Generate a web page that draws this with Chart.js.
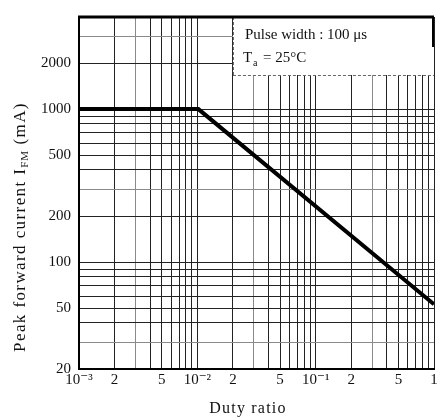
<!DOCTYPE html>
<html>
<head>
<meta charset="utf-8">
<script src="https://cdn.jsdelivr.net/npm/chart.js@4"></script>
<style>
  body { margin: 0; background: #fff; }
  canvas { display: block; }
</style>
</head>
<body>
<canvas id="chartIfm" width="441" height="419"></canvas>
<script>
// curva de corriente pico vs. relacion de trabajo
const dutyRatio = [0.001, 0.0102, 1];
const peakCurrent = [1000, 1000, 53];

// marcas del eje X (lineas de rejilla) y sus etiquetas
const xGrid = [0.001, 0.002, 0.003, 0.004, 0.005, 0.006, 0.007, 0.008, 0.009,
               0.01, 0.02, 0.03, 0.04, 0.05, 0.06, 0.07, 0.08, 0.09,
               0.1, 0.2, 0.3, 0.4, 0.5, 0.6, 0.7, 0.8, 0.9, 1];
const xTickLabels = { 0.001: '10⁻³', 0.002: '2', 0.005: '5', 0.01: '10⁻²', 0.02: '2',
                      0.05: '5', 0.1: '10⁻¹', 0.2: '2', 0.5: '5', 1: '1' };

// marcas del eje Y
const yGrid = [20, 30, 40, 50, 60, 70, 80, 90, 100, 200, 300, 400, 500, 600, 700,
               800, 900, 1000, 2000, 3000, 4000];
const yTickLabels = { 20: '20', 50: '50', 100: '100', 200: '200', 500: '500',
                      1000: '1000', 2000: '2000' };

const serif = '"Liberation Serif", "DejaVu Serif", serif';

// texto letra por letra con espaciado extra; devuelve el ancho usado
function spacedText(ctx, str, x, y, gap, draw) {
    let cx = x;
    for (const ch of str) {
        if (draw) ctx.fillText(ch, cx, y);
        cx += ctx.measureText(ch).width + gap;
    }
    return cx - x;
}

// recuadro de condiciones, titulos y marco superior
const extras = {
    id: 'extras',
    afterDatasetsDraw(chart) {
        const ctx = chart.ctx;
        const a = chart.chartArea;
        const xs = chart.scales.x;
        ctx.save();

        // recuadro blanco con las condiciones de medida
        const bx = xs.getPixelForValue(0.02);
        const bb = a.top + 58;
        ctx.fillStyle = '#fff';
        ctx.fillRect(bx, a.top, a.right - bx, bb - a.top);
        ctx.strokeStyle = '#666';
        ctx.lineWidth = 1;
        ctx.setLineDash([3, 2]);
        ctx.beginPath();
        ctx.moveTo(bx + 0.5, a.top);
        ctx.lineTo(bx + 0.5, bb);
        ctx.moveTo(bx, bb + 0.5);
        ctx.lineTo(a.right, bb + 0.5);
        ctx.stroke();
        ctx.setLineDash([]);
        ctx.strokeStyle = '#000';
        ctx.lineWidth = 2;
        ctx.beginPath();
        ctx.moveTo(a.right - 1, a.top);
        ctx.lineTo(a.right - 1, a.top + 30);
        ctx.stroke();

        ctx.fillStyle = '#111';
        ctx.textBaseline = 'alphabetic';
        ctx.textAlign = 'left';
        ctx.font = '15px ' + serif;
        ctx.fillText('Pulse width : 100 μs', bx + 12, a.top + 22);
        ctx.fillText('T', bx + 10, a.top + 45);
        ctx.font = '10px ' + serif;
        ctx.fillText('a', bx + 20, a.top + 49);
        ctx.font = '15px ' + serif;
        ctx.fillText('= 25°C', bx + 30, a.top + 45);

        // marco superior grueso
        ctx.strokeStyle = '#000';
        ctx.lineWidth = 3;
        ctx.beginPath();
        ctx.moveTo(a.left - 1, a.top);
        ctx.lineTo(a.right, a.top);
        ctx.stroke();

        // titulo del eje X
        ctx.font = '16px ' + serif;
        const wx = spacedText(ctx, 'Duty ratio', 0, 0, 1.2, false);
        spacedText(ctx, 'Duty ratio', 248 - wx / 2, 413, 1.2, true);

        // titulo del eje Y con subindice FM
        ctx.translate(21, 227);
        ctx.rotate(-Math.PI / 2);
        const main = 'Peak forward current I';
        const sub = 'FM';
        const tail = ' (mA)';
        const gap = 1.4;
        ctx.font = '17px ' + serif;
        const w1 = spacedText(ctx, main, 0, 0, gap, false);
        const w3 = spacedText(ctx, tail, 0, 0, gap, false);
        ctx.font = '11px ' + serif;
        const w2 = spacedText(ctx, sub, 0, 0, 0.8, false);
        const x0 = -(w1 + w2 + w3) / 2;
        ctx.textBaseline = 'middle';
        ctx.font = '17px ' + serif;
        spacedText(ctx, main, x0, 0, gap, true);
        ctx.font = '11px ' + serif;
        spacedText(ctx, sub, x0 + w1, 4, 0.8, true);
        ctx.font = '17px ' + serif;
        spacedText(ctx, tail, x0 + w1 + w2, 0, gap, true);
        ctx.restore();
    }
};

const ctxIfm = document.getElementById('chartIfm').getContext('2d');
const ifmChart = new Chart(ctxIfm, {
    type: 'line',
    data: {
        datasets: [{
            data: dutyRatio.map((d, i) => ({ x: d, y: peakCurrent[i] })),
            borderColor: '#000',
            borderWidth: 4,
            pointRadius: 0,
            tension: 0,
            fill: false
        }]
    },
    options: {
        responsive: false,
        animation: false,
        layout: { padding: { top: 11, right: 7, left: 0, bottom: 0 } },
        plugins: {
            legend: { display: false },
            tooltip: { enabled: false }
        },
        scales: {
            x: {
                type: 'logarithmic',
                min: 0.001,
                max: 1,
                afterBuildTicks: scale => { scale.ticks = xGrid.map(v => ({ value: v })); },
                afterFit: scale => { scale.height = 50; },
                ticks: {
                    autoSkip: false,
                    maxRotation: 0,
                    padding: 2,
                    color: '#111',
                    font: { family: serif, size: 15 },
                    callback: v => xTickLabels[v] || ''
                },
                grid: {
                    color: ctx => [0.003, 0.03, 0.3].includes(ctx.tick.value) ? '#8a8a8a' : '#222',
                    lineWidth: 1,
                    drawTicks: false
                },
                border: { display: true, color: '#000', width: 2 }
            },
            y: {
                type: 'logarithmic',
                min: 20,
                max: 4000,
                afterBuildTicks: scale => { scale.ticks = yGrid.map(v => ({ value: v })); },
                afterFit: scale => { scale.width = 79; },
                ticks: {
                    autoSkip: false,
                    padding: 8,
                    color: '#111',
                    font: { family: serif, size: 15 },
                    callback: v => yTickLabels[v] || ''
                },
                grid: {
                    color: ctx => [30, 300, 3000].includes(ctx.tick.value) ? '#8a8a8a' : '#222',
                    lineWidth: 1,
                    drawTicks: false
                },
                border: { display: true, color: '#000', width: 2 }
            }
        }
    },
    plugins: [extras]
});
</script>
</body>
</html>
